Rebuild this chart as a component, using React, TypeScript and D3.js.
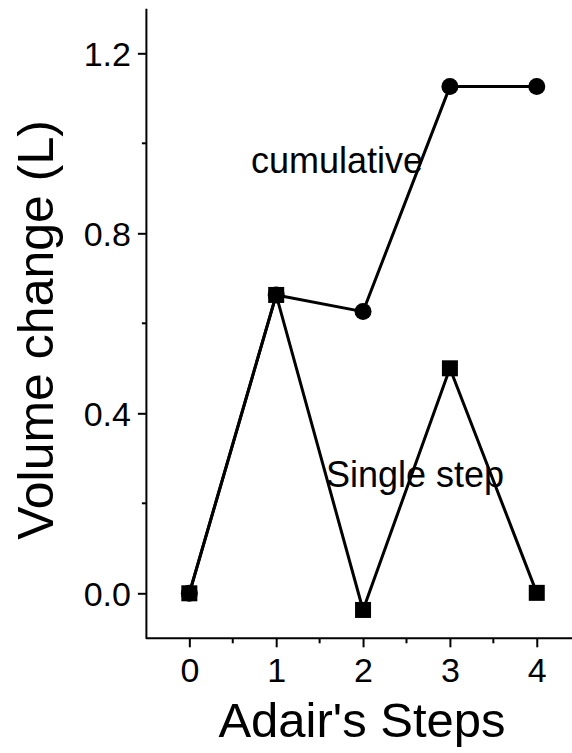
import * as d3 from 'd3';
import React, { useRef, useEffect } from 'react';

const steps = [0, 1, 2, 3, 4];
const cumulative = [0, 0.663, 0.626, 1.126, 1.126];
const singleStep = [0, 0.663, -0.037, 0.5, 0.001];
const yTicks = [0.0, 0.4, 0.8, 1.2];
const yMinor = [0.2, 0.6, 1.0];
const xMinor = [0.5, 1.5, 2.5, 3.5];

function App() {
    const ref = useRef(null);

    useEffect(() => {
        const svg = d3.select(ref.current);
        svg.selectAll('*').remove();
        const font = "'Liberation Sans', Arial, sans-serif";

        let x = d3.scaleLinear().domain([-0.5, 4.5]).range([145.9, 580.2]);
        let y = d3.scaleLinear().domain([-0.1, 1.3]).range([638.3, 8.3]);

        // axes
        const xAxis = svg.append("g").attr("transform", "translate(0," + y(-0.1) + ")");
        xAxis.call(d3.axisBottom(x).tickValues(steps).tickSize(9).tickSizeOuter(0).tickFormat(d3.format("d")));
        xAxis.select(".domain").attr("d", "M" + x(-0.5) + ",0H572");
        xAxis.selectAll("text").attr("font-size", 34).attr("font-family", font).attr("dy", 0).attr("y", 44).attr("fill", "#000");
        xAxis.selectAll("line").attr("stroke-width", 2);
        xAxis.select(".domain").attr("stroke-width", 2);
        xMinor.forEach(v => {
            xAxis.append("line").attr("x1", x(v)).attr("x2", x(v)).attr("y1", 0).attr("y2", 5)
                .attr("stroke", "#000").attr("stroke-width", 2);
        });

        const yAxis = svg.append("g").attr("transform", "translate(" + x(-0.5) + ",0)");
        yAxis.call(d3.axisLeft(y).tickValues(yTicks).tickSize(8).tickSizeOuter(0).tickFormat(d3.format(".1f")));
        yAxis.selectAll("text").attr("font-size", 34).attr("font-family", font).attr("x", -15).attr("dy", "0.36em").attr("fill", "#000");
        yAxis.selectAll("line").attr("stroke-width", 2);
        yAxis.select(".domain").attr("stroke-width", 2);
        yMinor.forEach(v => {
            yAxis.append("line").attr("x1", 0).attr("x2", -4).attr("y1", y(v)).attr("y2", y(v))
                .attr("stroke", "#000").attr("stroke-width", 2);
        });

        // axis titles
        svg.append("text")
            .attr("x", 362)
            .attr("y", 737)
            .attr("text-anchor", "middle")
            .attr("font-family", font)
            .attr("font-size", 49)
            .text("Adair's Steps");

        svg.append("text")
            .attr("transform", "translate(53,330) rotate(-90)")
            .attr("text-anchor", "middle")
            .attr("font-family", font)
            .attr("font-size", 50)
            .text("Volume change (L)");

        // annotations
        svg.append("text")
            .attr("x", 251).attr("y", 173)
            .attr("font-family", font).attr("font-size", 36)
            .text("cumulative");
        svg.append("text")
            .attr("x", 326).attr("y", 487)
            .attr("font-family", font).attr("font-size", 36)
            .text("Single step");

        // lines
        const line = d3.line().x(d => x(d[0])).y(d => y(d[1]));
        [cumulative, singleStep].forEach(s => {
            svg.append("path")
                .datum(steps.map((st, i) => [st, s[i]]))
                .attr("d", line)
                .attr("fill", "none")
                .attr("stroke", "#000")
                .attr("stroke-width", 3);
        });

        // markers
        svg.selectAll(".dot")
            .data(steps)
            .enter()
            .append("circle")
            .attr("cx", d => x(d))
            .attr("cy", (d, i) => y(cumulative[i]))
            .attr("r", 8.5)
            .attr("fill", "#000");

        svg.selectAll(".sq")
            .data(steps)
            .enter()
            .append("rect")
            .attr("x", d => x(d) - 8)
            .attr("y", (d, i) => y(singleStep[i]) - 8)
            .attr("width", 16)
            .attr("height", 16)
            .attr("fill", "#000");
    }, []);

    return (
        <div style={{ position: "absolute", left: 0, top: 0 }}>
            <svg ref={ref} width={572} height={753} style={{ display: "block", background: "#fff" }}></svg>
        </div>
    );
}

export default App;
